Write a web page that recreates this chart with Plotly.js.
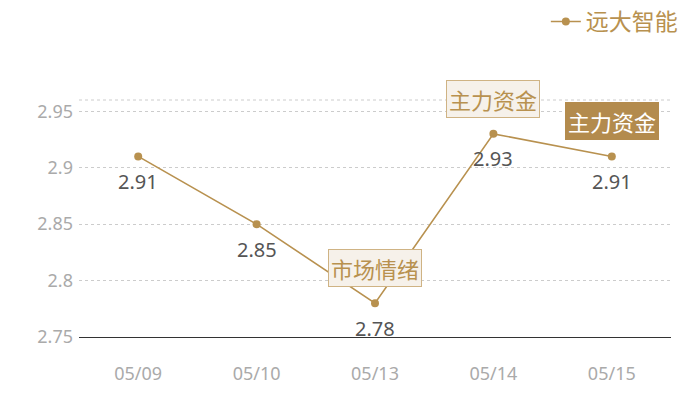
<!DOCTYPE html>
<html>
<head>
<meta charset="utf-8">
<script src="https://cdn.plot.ly/plotly-3.0.1.min.js"></script>
<style>
  html, body { margin: 0; padding: 0; background: #fff; }
  #chart { width: 700px; height: 400px; }
</style>
</head>
<body>
<div id="chart"></div>
<script>
const dates = ["05/09", "05/10", "05/13", "05/14", "05/15"];
const prices = [2.91, 2.85, 2.78, 2.93, 2.91];
const seriesName = "远大智能";

// event tags: [date index, label, filled]
const tagIdx = [3, 4, 2];
const tagText = ["主力资金", "主力资金", "市场情绪"];
const tagFilled = [false, true, false];

const gold = "#b8914f";
const fontFamily = "Noto Sans, Noto Sans CJK SC, sans-serif";

const trace = {
    x: dates,
    y: prices,
    name: seriesName,
    type: "scatter",
    mode: "lines+markers",
    line: { color: gold, width: 1.6 },
    marker: { color: gold, size: 8 },
    cliponaxis: false
};

// value labels under each point
const valueLabels = dates.map((d, i) => ({
    x: d,
    y: prices[i],
    xref: "x",
    yref: "y",
    text: String(prices[i]),
    showarrow: false,
    yshift: -25,
    font: { size: 20, color: "#555555", family: fontFamily }
}));

const tags = tagIdx.map((idx, i) => ({
    x: dates[idx],
    y: prices[idx],
    xref: "x",
    yref: "y",
    text: tagText[i],
    showarrow: false,
    yshift: 35,
    font: { size: 22, color: tagFilled[i] ? "#ffffff" : gold, family: "Noto Sans CJK SC" },
    bgcolor: tagFilled[i] ? "#b38b4d" : "#f6f1ea",
    bordercolor: tagFilled[i] ? "#b38b4d" : "#cfb384",
    borderwidth: 1,
    borderpad: 2
}));

const layout = {
    width: 700,
    height: 400,
    margin: { l: 79, r: 29, t: 100, b: 63 },
    font: { family: fontFamily, color: "#aaaaaa" },
    paper_bgcolor: "#ffffff",
    plot_bgcolor: "#ffffff",
    showlegend: true,
    legend: {
        orientation: "h",
        x: 1.02,
        xanchor: "right",
        y: 1,
        yref: "container",
        yanchor: "top",
        font: { size: 23, color: gold, family: "Noto Sans CJK SC" },
        itemwidth: 30
    },
    xaxis: {
        type: "category",
        range: [-0.5, 4.5],
        showgrid: false,
        showline: true,
        linecolor: "#333333",
        linewidth: 1,
        ticks: "",
        tickfont: { size: 18, color: "#aaaaaa" },
        ticklabelstandoff: 20,
        fixedrange: true
    },
    yaxis: {
        range: [2.75, 2.96],
        tickvals: [2.75, 2.8, 2.85, 2.9, 2.95],
        ticktext: ["2.75", "2.8", "2.85", "2.9", "2.95"],
        showgrid: true,
        gridcolor: "#cccccc",
        griddash: "dot",
        gridwidth: 1,
        zeroline: false,
        showline: false,
        ticks: "",
        tickfont: { size: 18, color: "#aaaaaa" },
        ticklabelstandoff: 5,
        fixedrange: true
    },
    shapes: [{
        type: "line",
        xref: "paper",
        yref: "paper",
        x0: 0, x1: 1, y0: 1, y1: 1,
        line: { color: "#cccccc", width: 1, dash: "dot" }
    }],
    annotations: valueLabels.concat(tags)
};

Plotly.newPlot("chart", [trace], layout, { displayModeBar: false, staticPlot: true });
</script>
</body>
</html>
